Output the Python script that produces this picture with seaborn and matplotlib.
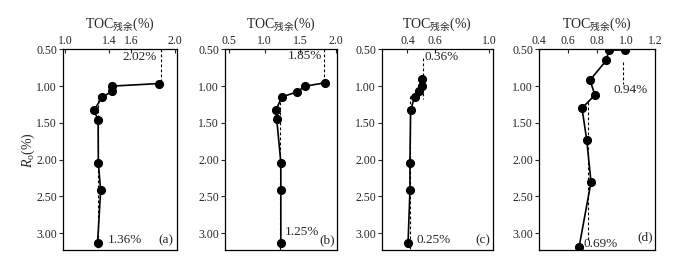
import matplotlib
matplotlib.use("Agg")
import matplotlib.pyplot as plt
import seaborn as sns
import pandas as pd

# Ro (%) values and residual TOC (%) for the four samples
ro_a = [0.965, 1.00, 1.07, 1.15, 1.33, 1.46, 2.04, 2.42, 3.14]
toc_a = [1.857, 1.43, 1.43, 1.338, 1.262, 1.30, 1.302, 1.323, 1.295]

ro_b = [0.956, 1.00, 1.077, 1.148, 1.327, 1.45, 2.04, 2.42, 3.14]
toc_b = [1.852, 1.57, 1.462, 1.242, 1.158, 1.17, 1.228, 1.228, 1.228]

ro_c = [0.90, 1.00, 1.067, 1.148, 1.327, 2.04, 2.42, 3.14]
toc_c = [0.509, 0.509, 0.484, 0.452, 0.423, 0.418, 0.418, 0.404]

ro_d = [0.509, 0.509, 0.651, 0.919, 1.121, 1.30, 1.738, 2.307, 3.19]
toc_d = [0.991, 0.881, 0.863, 0.751, 0.785, 0.696, 0.729, 0.758, 0.676]

panels = ["(a)", "(b)", "(c)", "(d)"]
x_ticks = [[1.0, 1.4, 1.6, 2.0], [0.5, 1.0, 1.5, 2.0], [0.4, 0.6, 1.0], [0.4, 0.6, 0.8, 1.0, 1.2]]
x_lims = [(0.98, 2.02), (0.44, 2.02), (0.21, 1.03), (0.42, 1.195)]
y_ticks = [0.5, 1.0, 1.5, 2.0, 2.5, 3.0]

# dashed reference lines: (x, ro_start, ro_end)
upper_ref = [(1.873, 0.5, 0.96), (1.838, 0.5, 0.93), (0.516, 0.62, 1.18), (0.978, 0.67, 0.97)]
lower_ref = [(1.30, 1.12, 3.23), (1.21, 1.15, 3.23), (0.416, 1.13, 3.23), (0.739, 1.22, 3.10)]
upper_lbl = ["2.02%", "1.85%", "0.36%", "0.94%"]
lower_lbl = ["1.36%", "1.25%", "0.25%", "0.69%"]

sns.set_style("ticks")
plt.rcParams["font.family"] = ["Liberation Serif", "Noto Sans CJK SC"]
plt.rcParams["mathtext.fontset"] = "custom"
plt.rcParams["mathtext.rm"] = "Liberation Serif"
plt.rcParams["mathtext.it"] = "Liberation Serif:italic"
plt.rcParams["mathtext.sf"] = "Noto Sans CJK SC"

fig = plt.figure(figsize=(7, 2.76), dpi=100)
lefts = [0.090, 0.3214, 0.5453, 0.770]
widths = [0.163, 0.160, 0.159, 0.166]

data = [(ro_a, toc_a), (ro_b, toc_b), (ro_c, toc_c), (ro_d, toc_d)]

# label positions in axes fraction
up_pos = [(0.825, 0.963, "right"), (0.866, 0.967, "right"), (0.38, 0.963, "left"), (0.638, 0.797, "left")]
lo_pos = [(0.395, 0.02, "left"), (0.536, 0.06, "left"), (0.313, 0.02, "left"), (0.38, 0.0, "left")]
tag_pos = [(0.904, 0.02), (0.91, 0.02), (0.907, 0.02), (0.917, 0.035)]

for i in range(4):
    ax = fig.add_axes([lefts[i], 0.0942, widths[i], 0.727])
    ro, toc = data[i]
    df = pd.DataFrame({"toc": toc, "ro": ro})
    sns.lineplot(data=df, x="toc", y="ro", sort=False, estimator=None,
                 color="black", lw=1.2, marker="o", markersize=5.8,
                 markeredgecolor="black", ax=ax)

    ux, u0, u1 = upper_ref[i]
    lx, l0, l1 = lower_ref[i]
    ax.vlines(ux, u0, u1, colors="black", linestyles=(0, (2.5, 2)), lw=0.8)
    ax.vlines(lx, l0, l1, colors="black", linestyles=(0, (2.5, 2)), lw=0.8)

    px, py, ha = up_pos[i]
    ax.text(px, py, upper_lbl[i], transform=ax.transAxes, ha=ha, va="center", fontsize=9.5)
    px, py, ha = lo_pos[i]
    ax.text(px, py, lower_lbl[i], transform=ax.transAxes, ha=ha, va="bottom", fontsize=9.5)
    ax.text(tag_pos[i][0], tag_pos[i][1], panels[i], transform=ax.transAxes,
            ha="center", va="bottom", fontsize=9.5)

    ax.set_xlim(*x_lims[i])
    ax.set_ylim(3.23, 0.5)
    ax.set_xticks(x_ticks[i])
    ax.set_xticklabels([f"{v:.1f}" for v in x_ticks[i]])
    ax.set_yticks(y_ticks)
    ax.set_yticklabels([f"{v:.2f}" for v in y_ticks])
    ax.xaxis.tick_top()
    ax.xaxis.set_label_position("top")
    ax.tick_params(axis="x", direction="in", length=3, pad=1.5, labelsize=8.5)
    ax.tick_params(axis="y", direction="out", length=3, pad=1.2, labelsize=8.5)
    ax.set_xlabel(r"TOC$_{\mathsf{残余}}$(%)", fontsize=10, labelpad=5)
    if i == 0:
        ax.set_ylabel(r"$R_{\mathrm{o}}$(%)", fontsize=10)
        ax.yaxis.set_label_coords(-0.225, 0.5)
    else:
        ax.set_ylabel("")
    for s in ax.spines.values():
        s.set_visible(True)
        s.set_linewidth(0.9)
        s.set_color("black")

fig.savefig("out.png", dpi=100)
